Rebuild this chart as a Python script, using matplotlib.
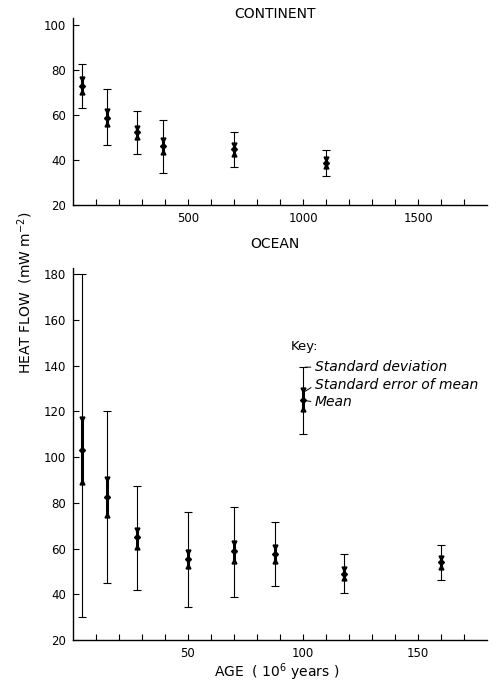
import matplotlib
matplotlib.use("Agg")
import matplotlib.pyplot as plt
import numpy as np

plt.rcParams['font.family'] = ['DejaVu Sans']

# ---- Continent data (age in 10^6 yr, heat flow mW m^-2) ----
cont_age = [40, 150, 280, 390, 700, 1100]
cont_mean = [73.0, 58.7, 52.3, 46.4, 44.8, 38.7]
cont_sem_lo = [70.0, 56.0, 50.3, 43.4, 42.5, 37.2]
cont_sem_hi = [75.9, 61.9, 54.0, 49.0, 46.5, 40.6]
cont_sd_lo = [63.0, 46.5, 42.5, 34.3, 36.9, 32.8]
cont_sd_hi = [82.8, 71.5, 61.9, 57.8, 52.2, 44.5]

# ---- Ocean data ----
ocean_age = [4, 15, 28, 50, 70, 88, 118, 160]
ocean_mean = [103.0, 82.6, 65.1, 55.6, 59.0, 57.8, 48.8, 54.2]
ocean_sem_lo = [89.0, 74.6, 60.8, 52.3, 54.6, 54.6, 47.0, 52.0]
ocean_sem_hi = [116.5, 90.3, 68.3, 58.3, 62.5, 60.7, 51.0, 56.0]
ocean_sd_lo = [30.0, 45.0, 41.8, 34.5, 38.9, 43.7, 40.4, 46.2]
ocean_sd_hi = [180.0, 120.0, 87.2, 76.0, 78.2, 71.7, 57.6, 61.5]

# ---- Key ----
key_age = [100]
key_mean = [125.0]
key_sem_lo = [121.2]
key_sem_hi = [129.2]
key_sd_lo = [110.2]
key_sd_hi = [139.3]
key_labels = ['Standard deviation', 'Standard error of mean', 'Mean']

FS = 8.5


def draw_bars(ax, x, mean, slo, shi, dlo, dhi):
    x = np.asarray(x, float)
    mean = np.asarray(mean)
    slo = np.asarray(slo); shi = np.asarray(shi)
    dlo = np.asarray(dlo); dhi = np.asarray(dhi)
    # standard deviation: thin bar with caps
    ax.errorbar(x, mean, yerr=[mean - dlo, dhi - mean], fmt='none',
                ecolor='black', elinewidth=0.8, capsize=3, capthick=0.8,
                zorder=2)
    # standard error of mean: thick bar
    ax.vlines(x, slo, shi, colors='black', linewidth=2.2, zorder=3)
    ax.plot(x, shi, 'v', color='black', ms=3.5, zorder=4)
    ax.plot(x, slo, '^', color='black', ms=3.5, zorder=4)
    ax.plot(x, mean, 'D', color='black', ms=3, zorder=4)


def style(ax):
    for s in ['top', 'right']:
        ax.spines[s].set_visible(False)
    for s in ['left', 'bottom']:
        ax.spines[s].set_linewidth(1.0)
    ax.tick_params(axis='both', which='both', direction='in', length=4,
                   width=0.8, labelsize=FS, pad=5)


fig = plt.figure(figsize=(4.96, 6.84), dpi=100)

# ---- Top panel: continent ----
ax1 = fig.add_axes([0.147, 0.7003, 0.835, 0.2734])
draw_bars(ax1, cont_age, cont_mean, cont_sem_lo, cont_sem_hi,
          cont_sd_lo, cont_sd_hi)
ax1.set_xlim(0, 1800)
ax1.set_ylim(20, 103)
ax1.set_yticks([20, 40, 60, 80, 100])
ax1.set_xticks(np.arange(100, 1800, 100))
ax1.set_xticklabels([str(v) if v % 500 == 0 else '' for v in np.arange(100, 1800, 100)])
style(ax1)
ax1.text(0.488, 1.02, 'CONTINENT', transform=ax1.transAxes, ha='center',
         va='center', fontsize=10)

# ---- Bottom panel: ocean ----
ax2 = fig.add_axes([0.147, 0.0643, 0.835, 0.5434])
draw_bars(ax2, ocean_age, ocean_mean, ocean_sem_lo, ocean_sem_hi,
          ocean_sd_lo, ocean_sd_hi)
draw_bars(ax2, key_age, key_mean, key_sem_lo, key_sem_hi, key_sd_lo, key_sd_hi)
ax2.set_xlim(0, 180)
ax2.set_ylim(20, 182.5)
ax2.set_yticks(np.arange(20, 181, 20))
ax2.set_xticks(np.arange(10, 180, 10))
ax2.set_xticklabels([str(v) if v % 50 == 0 else '' for v in np.arange(10, 180, 10)])
style(ax2)
ax2.text(0.488, 1.065, 'OCEAN', transform=ax2.transAxes, ha='center',
         va='center', fontsize=10)
ax2.text(0.493, -0.086, 'AGE  ( 10$^6$ years )', transform=ax2.transAxes,
         ha='center', va='center', fontsize=10)

# Key annotations
kx = key_age[0]
ax2.text(kx - 5.5, 148.5, 'Key:', fontsize=FS + 1, ha='left', va='center')
targets = [key_sd_hi[0], key_sem_hi[0] - 0.5, key_mean[0] - 0.3]
text_y = [139.3, 131.5, 124.0]
for lab, ty, yy in zip(key_labels, targets, text_y):
    ax2.annotate(lab, xy=(kx + 0.9, ty), xytext=(kx + 5.2, yy),
                 fontsize=10, style='italic', va='center', ha='left',
                 annotation_clip=False,
                 arrowprops=dict(arrowstyle='-', lw=0.7, color='black',
                                 shrinkA=1.0, shrinkB=0.3,
                                 relpos=(0.0, 0.5)))

fig.text(0.05, 0.572, 'HEAT FLOW  (mW m$^{-2}$)', rotation=90, ha='center',
         va='center', fontsize=10)

fig.savefig('out.png', dpi=100)
